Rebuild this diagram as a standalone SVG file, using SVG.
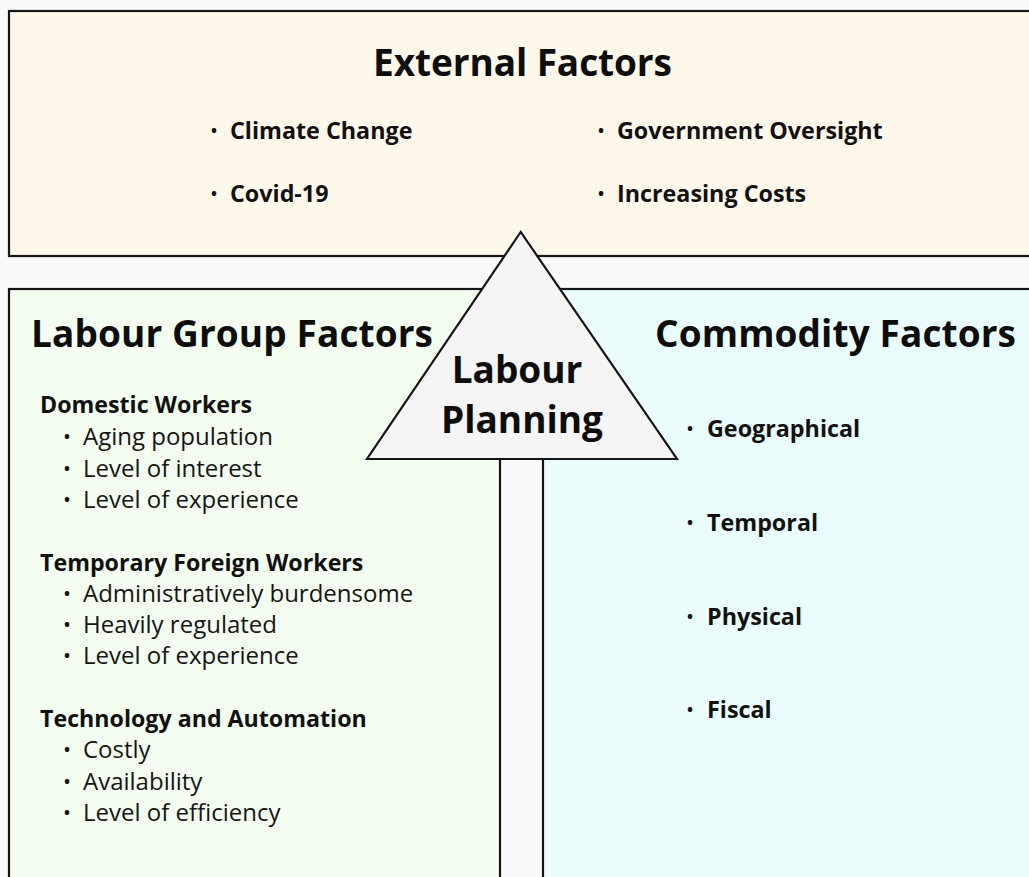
<svg xmlns="http://www.w3.org/2000/svg" width="1029" height="877" viewBox="0 0 1029 877">
  <style>
    .panel { stroke: #151515; stroke-width: 2.2; }
    .title { font-family: "Open Sans", "Liberation Sans", sans-serif; font-weight: 700; font-size: 37px; fill: #0d0d0d; }
    .item { font-family: "Open Sans", "Liberation Sans", sans-serif; font-weight: 700; font-size: 23.3px; fill: #111; }
    .head { font-family: "Open Sans", "Liberation Sans", sans-serif; font-weight: 700; font-size: 23.2px; fill: #111; }
    .reg { font-family: "Open Sans", "Liberation Sans", sans-serif; font-weight: 400; font-size: 24px; fill: #151515; }
    .dot { font-family: "Open Sans", "Liberation Sans", sans-serif; font-weight: 700; font-size: 16px; fill: #111; text-anchor: middle; }
  </style>

  <!-- page background -->
  <rect x="0" y="0" width="1029" height="877" fill="#f9f9f9"/>

  <!-- top band -->
  <g id="external-factors">
    <rect class="panel" x="9" y="11" width="1040" height="245" fill="#fef8eb"/>
    <text class="title" x="373" y="76" textLength="299" lengthAdjust="spacing">External Factors</text>
    <text class="dot" x="214" y="136">•</text>
    <text class="item" x="230" y="139">Climate Change</text>
    <text class="dot" x="214" y="199">•</text>
    <text class="item" x="230" y="202">Covid-19</text>
    <text class="dot" x="601" y="136">•</text>
    <text class="item" x="617" y="139">Government Oversight</text>
    <text class="dot" x="601" y="199">•</text>
    <text class="item" x="617" y="202">Increasing Costs</text>
  </g>

  <!-- left column -->
  <g id="labour-group-factors">
    <rect class="panel" x="9" y="289" width="491" height="620" fill="#f3fdf0"/>
    <text class="title" x="31" y="347" textLength="402" lengthAdjust="spacing">Labour Group Factors</text>

    <text class="head" x="40" y="413">Domestic Workers</text>
    <text class="dot" x="67" y="442">•</text>
    <text class="reg" x="83" y="445">Aging population</text>
    <text class="dot" x="67" y="474">•</text>
    <text class="reg" x="83" y="477">Level of interest</text>
    <text class="dot" x="67" y="505">•</text>
    <text class="reg" x="83" y="508">Level of experience</text>

    <text class="head" x="40" y="571">Temporary Foreign Workers</text>
    <text class="dot" x="67" y="599">•</text>
    <text class="reg" x="83" y="602">Administratively burdensome</text>
    <text class="dot" x="67" y="630">•</text>
    <text class="reg" x="83" y="633">Heavily regulated</text>
    <text class="dot" x="67" y="661">•</text>
    <text class="reg" x="83" y="664">Level of experience</text>

    <text class="head" x="40" y="727">Technology and Automation</text>
    <text class="dot" x="67" y="755">•</text>
    <text class="reg" x="83" y="758">Costly</text>
    <text class="dot" x="67" y="787">•</text>
    <text class="reg" x="83" y="790">Availability</text>
    <text class="dot" x="67" y="818">•</text>
    <text class="reg" x="83" y="821">Level of efficiency</text>
  </g>

  <!-- right column -->
  <g id="commodity-factors">
    <rect class="panel" x="543" y="289" width="520" height="620" fill="#ebfcfd"/>
    <text class="title" x="655" y="347" textLength="361" lengthAdjust="spacing">Commodity Factors</text>
    <text class="dot" x="690" y="434">•</text>
    <text class="item" x="707" y="437">Geographical</text>
    <text class="dot" x="690" y="528">•</text>
    <text class="item" x="707" y="531">Temporal</text>
    <text class="dot" x="690" y="622">•</text>
    <text class="item" x="707" y="625">Physical</text>
    <text class="dot" x="690" y="715">•</text>
    <text class="item" x="707" y="718">Fiscal</text>
  </g>

  <!-- central triangle -->
  <g id="labour-planning">
    <polygon class="panel" points="520.7,232 367,459 677,459" fill="#f5f5f5" stroke-linejoin="miter"/>
    <text class="title" x="517" y="383" text-anchor="middle" font-size="36">Labour</text>
    <text class="title" x="522" y="433" text-anchor="middle" font-size="36">Planning</text>
  </g>

  <g id="connectors"/>
</svg>
